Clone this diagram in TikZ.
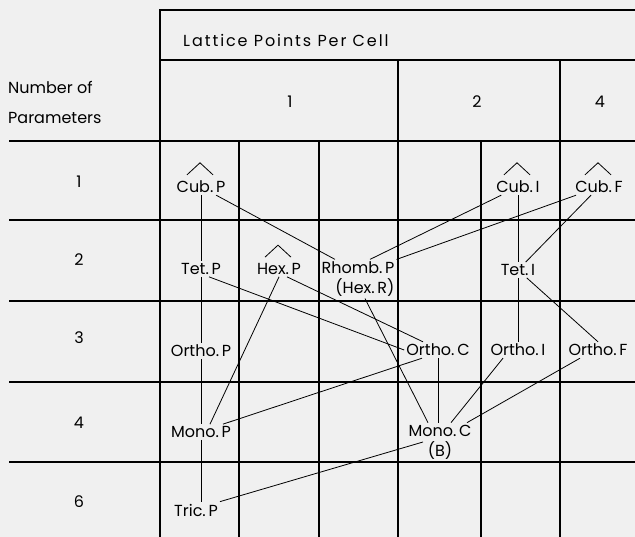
\documentclass[tikz,border=0pt]{standalone}
\usepackage{fontspec}
\setmainfont{Poppins}
\usetikzlibrary{positioning}
\tikzset{
	cellnode/.style={
			inner sep=2pt,
			font=\fontsize{16}{20}\selectfont
		},
	headnode/.style={
			inner sep=0pt,
			font=\fontsize{16}{30}\selectfont
		},
	gridline/.style={
			line width=1.6pt,
			line cap=rect
		},
	linkline/.style={
			line width=0.8pt
		}
}
\begin{document}
\begin{tikzpicture}[x=1pt, y=-1pt]
\useasboundingbox (0,0) rectangle (635,537);
\fill[black!6] (0,0) rectangle (635,537);

\draw[gridline] (160,10) -- (640,10);
\draw[gridline] (160,60) -- (640,60);
\foreach \y in {141,220,301,382,462}
  \draw[gridline] (10,\y) -- (640,\y);
\draw[gridline] (160,10) -- (160,540);
\foreach \x in {398,560}
  \draw[gridline] (\x,60) -- (\x,540);
\foreach \x in {239,319,481}
  \draw[gridline] (\x,141) -- (\x,540);

\node[headnode, anchor=west] (title) at (183,40) {\addfontfeature{LetterSpace=12}Lattice Points Per Cell};
\node[headnode, anchor=west, align=left] (params) at (8,102) {Number of\\Parameters};
\node[headnode] (one) at (290,102) {1};
\node[headnode] (two) at (477,102) {2};
\node[headnode] (four) at (600,102) {4};

\node[headnode] (r1) at (79,182) {1};
\node[headnode] (r2) at (79,260) {2};
\node[headnode] (r3) at (79,338) {3};
\node[headnode] (r4) at (79,423) {4};
\node[headnode] (r6) at (79,502) {6};

\node[cellnode] (cubP) at (201,187) {Cub.\,P};
\node[cellnode] (tetP) at (201,269) {Tet.\,P};
\node[cellnode] (orthoP) at (201,351) {Ortho.\,P};
\node[cellnode] (monoP) at (201,432) {Mono.\,P};
\node[cellnode] (tricP) at (196,510) {Tric.\,P};
\node[cellnode] (hexP) at (279,269) {Hex.\,P};
\node[cellnode, align=right] (rhombP) at (358,279) {Rhomb.\,P\\(Hex.\,R)};
\node[cellnode] (orthoC) at (438,350) {Ortho.\,C};
\node[cellnode, align=center] (monoC) at (440,442) {Mono.\,C\\(B)};
\node[cellnode] (cubI) at (518,187) {Cub.\,I};
\node[cellnode] (tetI) at (518,270) {Tet.\,I};
\node[cellnode] (orthoI) at (518,350) {Ortho.\,I};
\node[cellnode] (cubF) at (599,187) {Cub.\,F};
\node[cellnode] (orthoF) at (598,350) {Ortho.\,F};

\foreach \n in {cubP,hexP,cubI,cubF}
  \draw[linkline] ([xshift=-14pt,yshift=4pt]\n.north) -- ++(13,-12) -- ++(13,12);

\draw[linkline] (cubP) -- (tetP);
\draw[linkline] (tetP) -- (orthoP);
\draw[linkline] (orthoP) -- (monoP);
\draw[linkline] (monoP.south) -- (monoP.south |- tricP.north);
\draw[linkline] (cubI) -- (tetI);
\draw[linkline] (tetI) -- (orthoI);
\draw[linkline] (orthoC.south) -- (orthoC.south |- monoC.north);

\draw[linkline] (cubP) -- ([xshift=-23pt]rhombP.north);
\draw[linkline] (cubI) -- ([xshift=12pt]rhombP.north);
\draw[linkline] (cubF) -- (rhombP.north east);
\draw[linkline] (cubF) -- (tetI);
\draw[linkline] (tetI) -- (orthoF.north);
\draw[linkline] ([xshift=8pt]tetP.south) -- (orthoC.west);
\draw[linkline] ([xshift=8pt]hexP.south) -- ([xshift=-15pt]orthoC.north);
\draw[linkline] (hexP.south) -- ([xshift=9pt]monoP.north);
\draw[linkline] ([xshift=7pt]rhombP.south) -- ([xshift=-12pt]monoC.north);
\draw[linkline] ([xshift=22pt]monoP.north) -- ([xshift=-16pt]orthoC.south);
\draw[linkline] (tricP.north east) -- ([xshift=-17pt]monoC.center);
\draw[linkline] ([xshift=-15pt]orthoI.south) -- ([xshift=11pt]monoC.north);
\draw[linkline] ([xshift=-18pt]orthoF.south) -- ([xshift=27pt]monoC.north);
\end{tikzpicture}
\end{document}
